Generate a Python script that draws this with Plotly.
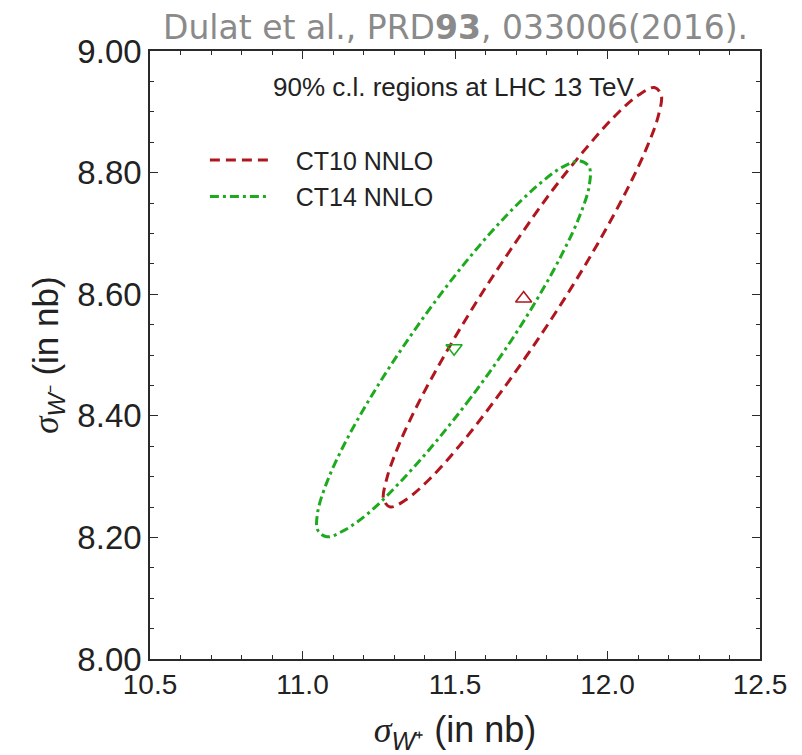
import plotly.graph_objects as go

# CT10 NNLO 90% c.l. contour
ct10_x = [11.862, 11.745, 11.627, 11.515, 11.417, 11.339, 11.288, 11.266, 11.276, 11.315,
          11.382, 11.473, 11.580, 11.697, 11.815, 11.928, 12.026, 12.103, 12.154, 12.176,
          12.167, 12.127, 12.060, 11.969, 11.862]
ct10_y = [8.595, 8.506, 8.423, 8.351, 8.296, 8.262, 8.250, 8.262, 8.296, 8.351,
          8.423, 8.506, 8.595, 8.684, 8.768, 8.839, 8.894, 8.928, 8.940, 8.928,
          8.894, 8.839, 8.768, 8.684, 8.595]

# CT14 NNLO 90% c.l. contour
ct14_x = [11.666, 11.552, 11.435, 11.322, 11.221, 11.138, 11.080, 11.050, 11.050, 11.081,
          11.140, 11.223, 11.325, 11.438, 11.555, 11.668, 11.769, 11.852, 11.910, 11.940,
          11.940, 11.909, 11.850, 11.767, 11.666]
ct14_y = [8.510, 8.430, 8.356, 8.292, 8.242, 8.212, 8.201, 8.212, 8.242, 8.292,
          8.356, 8.430, 8.510, 8.590, 8.665, 8.729, 8.778, 8.809, 8.819, 8.809,
          8.778, 8.729, 8.665, 8.590, 8.510]

# central predictions
ct10_center_x = [11.725]
ct10_center_y = [8.593]
ct14_center_x = [11.497]
ct14_center_y = [8.511]

x_tick_vals = [10.5, 11.0, 11.5, 12.0, 12.5]
y_tick_vals = [8.0, 8.2, 8.4, 8.6, 8.8, 9.0]

series_names = ["CT10 NNLO", "CT14 NNLO"]

RED = "#B0161E"
GREEN = "#1EAA1E"
AXIS = "#2a2a2a"
SANS = "Liberation Sans, Arial, Helvetica, sans-serif"
PAD = "\u00a0\u00a0\u00a0"

fig = go.Figure()
fig.add_trace(go.Scatter(
    x=ct10_x, y=ct10_y, mode="lines", name=PAD + series_names[0], legendgroup="a",
    line=dict(color=RED, width=3, dash="10px,6px", shape="spline", smoothing=1.0),
))
fig.add_trace(go.Scatter(
    x=ct14_x, y=ct14_y, mode="lines", name=PAD + series_names[1], legendgroup="b",
    line=dict(color=GREEN, width=3, dash="9px,4px,3px,4px", shape="spline", smoothing=1.0),
))
fig.add_trace(go.Scatter(
    x=ct10_center_x, y=ct10_center_y, mode="markers", showlegend=False,
    marker=dict(symbol="triangle-up-open", size=14, color=RED, line=dict(width=1.6, color=RED)),
))
fig.add_trace(go.Scatter(
    x=ct14_center_x, y=ct14_center_y, mode="markers", showlegend=False,
    marker=dict(symbol="triangle-down-open", size=14, color=GREEN, line=dict(width=1.6, color=GREEN)),
))

axis_common = dict(
    showgrid=False, zeroline=False, showline=True, linecolor=AXIS, linewidth=1.6,
    mirror="allticks", ticks="inside", ticklen=8, tickwidth=1.4, tickcolor=AXIS,
    automargin=False,
)

fig.update_layout(
    width=802, height=755,
    margin=dict(l=150, r=42, t=51, b=96),
    paper_bgcolor="white", plot_bgcolor="white",
    font=dict(family=SANS, color="#222222"),
    xaxis=dict(
        range=[10.5, 12.5], tickvals=x_tick_vals, tickformat=".1f",
        tickfont=dict(size=28, family=SANS, color="#222222"),
        minor=dict(dtick=0.1, ticks="inside", ticklen=4, tickwidth=1.2, tickcolor=AXIS),
        title=dict(
            text='<span style="font-family:Liberation Serif"><i>σ</i></span><sub><i>W</i>⁺</sub> (in nb)',
            font=dict(size=36, family=SANS, color="#222222"), standoff=18),
        **axis_common,
    ),
    yaxis=dict(
        range=[8.0, 9.0], tickvals=y_tick_vals, tickformat=".2f",
        tickfont=dict(size=33, family=SANS, color="#222222"),
        minor=dict(dtick=0.05, ticks="inside", ticklen=4, tickwidth=1.2, tickcolor=AXIS),
        title=dict(
            text='<span style="font-family:Liberation Serif"><i>σ</i></span><sub><i>W</i>⁻</sub> (in nb)',
            font=dict(size=35, family=SANS, color="#222222"), standoff=8),
        **axis_common,
    ),
    legend=dict(
        x=0.09, y=0.858, xanchor="left", yanchor="top",
        bgcolor="rgba(0,0,0,0)", font=dict(size=25, family=SANS, color="#222222"),
        itemwidth=60, tracegroupgap=1,
    ),
    showlegend=True,
    annotations=[
        dict(text="Dulat et al., PRD<b>93</b>, 033006(2016).", xref="paper", yref="paper",
             x=0.5, y=1.0, xanchor="center", yanchor="bottom", yshift=2, showarrow=False,
             font=dict(size=33, family="DejaVu Sans, Open Sans, sans-serif", color="#8a8a8a")),
        dict(text="90% c.l. regions at LHC 13 TeV", xref="paper", yref="paper",
             x=0.497, y=0.94, xanchor="center", yanchor="middle", showarrow=False,
             font=dict(size=26, family=SANS, color="#222222")),
    ],
)

fig.write_html("out.html")
